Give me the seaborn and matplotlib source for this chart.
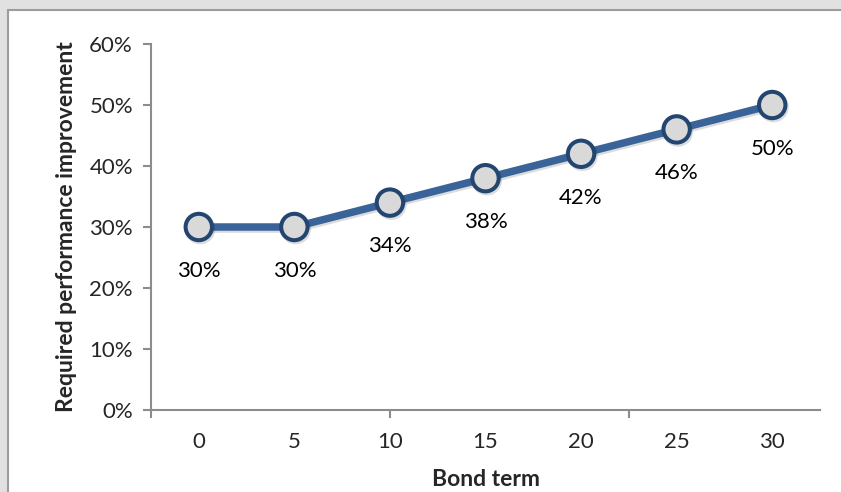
import numpy as np
import pandas as pd
import matplotlib
matplotlib.use("Agg")
import matplotlib.pyplot as plt
import matplotlib.patheffects as pe
from matplotlib.patches import Rectangle
from matplotlib.ticker import PercentFormatter
import seaborn as sns

bond_term = [0, 5, 10, 15, 20, 25, 30]
required = [0.30, 0.30, 0.34, 0.38, 0.42, 0.46, 0.50]
point_labels = ["30%", "30%", "34%", "38%", "42%", "46%", "50%"]

df = pd.DataFrame({"term": bond_term, "req": required})

sns.set_theme(style="white")
plt.rcParams["font.family"] = ["Lato", "DejaVu Sans"]

fig = plt.figure(figsize=(8.41, 4.92), dpi=100)
fig.patch.set_facecolor("#e1e1e1")
# white chart area with grey border (Excel chart frame)
fig.patches.append(Rectangle((8 / 841, -0.05), 1.1, 1 - 10 / 492 + 0.05,
                             transform=fig.transFigure, facecolor="white",
                             edgecolor="#9c9c9c", linewidth=1.5, zorder=-10))

ax = fig.add_axes([151 / 841, 82 / 492, (820 - 151) / 841, (410 - 44) / 492])
ax.set_facecolor("none")

sns.lineplot(data=df, x="term", y="req", ax=ax, color="#3a6499", linewidth=5.4,
             marker="o", markersize=19, markerfacecolor="#d9d9d9",
             markeredgecolor="#234670", markeredgewidth=2.9)
ax.lines[0].set_path_effects([pe.SimpleLineShadow(offset=(1, -1.5), alpha=0.15),
                              pe.Normal()])
ax.lines[0].set_solid_capstyle("butt")

for x, y, t in zip(bond_term, required, point_labels):
    ax.annotate(t, (x, y), xytext=(0, -31.5), textcoords="offset points",
                ha="center", va="center", fontsize=16, color="black")

ax.set_xlim(-2.5, 32.5)
ax.set_ylim(0, 0.6)
ax.yaxis.set_major_formatter(PercentFormatter(1.0, decimals=0))
ax.set_yticks(np.arange(0, 0.61, 0.1))

# category labels (no marks) and tick marks every 2.5 categories
ax.xaxis.remove_overlapping_locs = False
ax.set_xticks([-2.5, 10, 22.5])
ax.set_xticklabels([])
ax.set_xticks(bond_term, minor=True)
ax.set_xticklabels([str(v) for v in bond_term], minor=True)
ax.tick_params(axis="x", which="minor", bottom=True, length=0, pad=16,
               labelsize=16)
ax.tick_params(axis="x", which="major", bottom=True, length=6, width=1.5,
               color="#8c8c8c", direction="out")
ax.tick_params(axis="y", left=True, length=6, width=1.5, color="#8c8c8c",
               direction="out", labelsize=16, pad=7)

for side in ["top", "right"]:
    ax.spines[side].set_visible(False)
for side in ["left", "bottom"]:
    ax.spines[side].set_color("#8c8c8c")
    ax.spines[side].set_linewidth(1.5)

ax.set_xlabel("Bond term", fontsize=16.5, fontweight="bold", labelpad=12)
ax.set_ylabel("Required performance improvement", fontsize=16.5,
              fontweight="bold", labelpad=9)

fig.savefig("out.png", dpi=100, facecolor=fig.get_facecolor())
